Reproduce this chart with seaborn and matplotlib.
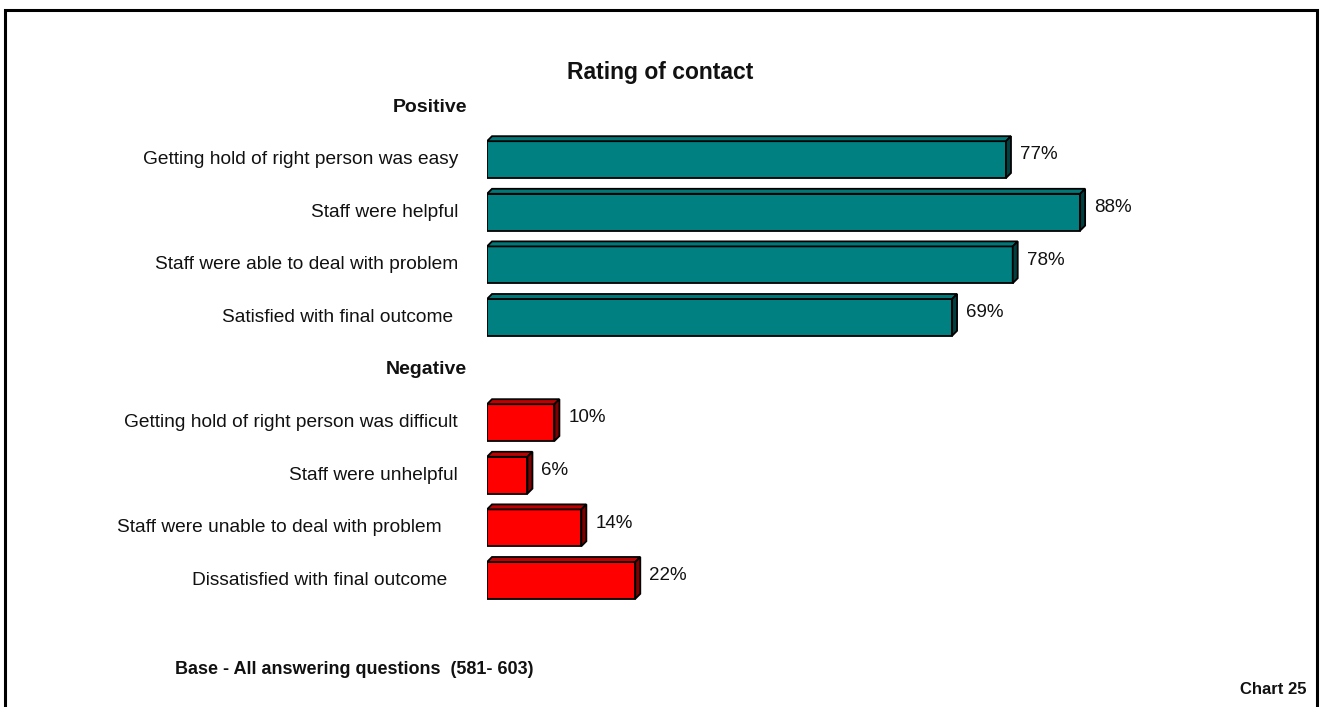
import matplotlib
matplotlib.use("Agg")
import matplotlib.pyplot as plt
import matplotlib.patches as mpatches
from matplotlib.transforms import offset_copy
import seaborn as sns
import pandas as pd

# Survey results (% of respondents)
positive_labels = [
    "Getting hold of right person was easy",
    "Staff were helpful",
    "Staff were able to deal with problem",
    "Satisfied with final outcome",
]
positive_values = [77, 88, 78, 69]

negative_labels = [
    "Getting hold of right person was difficult",
    "Staff were unhelpful",
    "Staff were unable to deal with problem",
    "Dissatisfied with final outcome",
]
negative_values = [10, 6, 14, 22]

group_headers = ["Positive", "Negative"]
title = "Rating of contact"
base_note = "Base - All answering questions  (581- 603)"
chart_id = "Chart 25"

# Small right-hand nudges (in spaces) so a few labels sit a little further left
label_nudge = {
    "Satisfied with final outcome": 1,
    "Staff were unable to deal with problem": 3,
    "Dissatisfied with final outcome": 2,
}

df = pd.DataFrame({
    "item": positive_labels + negative_labels,
    "pct": positive_values + negative_values,
    "group": ["Positive"] * len(positive_labels) + ["Negative"] * len(negative_labels),
})
row_order = [group_headers[0]] + positive_labels + [group_headers[1]] + negative_labels

sns.set_theme(style="white")
plt.rcParams["font.family"] = ["Liberation Sans", "DejaVu Sans"]

W, H = 1321, 707
fig = plt.figure(figsize=(W / 100, H / 100), dpi=100)

# axes placed in pixel terms: x=0 at 487px, 100% spans 674px; 10 rows of ~52.6px
ax_left, ax_w = 487, 674
row_h = 52.6
top_px = 107 - row_h / 2
ax_h = row_h * len(row_order)
ax = fig.add_axes([ax_left / W, 1 - (top_px + ax_h) / H, ax_w / W, ax_h / H])

front = {"Positive": "#008080", "Negative": "#FF0000"}
top_face = {"Positive": "#007878", "Negative": "#C00000"}
side_face = {"Positive": "#004040", "Negative": "#800000"}

sns.barplot(data=df, x="pct", y="item", hue="group", order=row_order,
            hue_order=group_headers, palette=front, saturation=1, dodge=False,
            width=0.7, edgecolor="black", linewidth=1.3, legend=False, ax=ax,
            orient="h")

ax.set_xlim(0, 100)
ax.set_ylim(len(row_order) - 0.5, -0.5)
ax.axis("off")

# 3-D faces: depth in pixels converted to data units
depth_px = 5
dx = depth_px / (ax_w / 100)
dy = depth_px / row_h
item_group = dict(zip(df["item"], df["group"]))
item_value = dict(zip(df["item"], df["pct"]))
for bar in list(ax.patches):
    if bar.get_width() <= 0:
        continue
    x0 = bar.get_x()
    x1 = x0 + bar.get_width()
    y_top = bar.get_y()
    y_bot = y_top + bar.get_height()
    yc = y_top + bar.get_height() / 2
    item = row_order[int(round(yc))]
    g = item_group[item]
    top = mpatches.Polygon([(x0, y_top), (x1, y_top), (x1 + dx, y_top - dy), (x0 + dx, y_top - dy)],
                           closed=True, facecolor=top_face[g], edgecolor="black", linewidth=1.3)
    side = mpatches.Polygon([(x1, y_top), (x1 + dx, y_top - dy), (x1 + dx, y_bot - dy), (x1, y_bot)],
                            closed=True, facecolor=side_face[g], edgecolor="black", linewidth=1.3)
    ax.add_patch(top)
    ax.add_patch(side)
    ax.text(x1 + dx + 9 / (ax_w / 100), yc - 0.09, f"{item_value[item]}%",
            ha="left", va="center", fontsize=13.5, color="#111111")

# Row labels and group headers
lab_tr = offset_copy(ax.get_yaxis_transform(), fig=fig, x=-29, y=0, units="dots")
head_tr = offset_copy(ax.get_yaxis_transform(), fig=fig, x=-20, y=0, units="dots")
for i, name in enumerate(row_order):
    if name in group_headers:
        ax.text(0, i, name, transform=head_tr, ha="right", va="center",
                fontsize=14, fontweight="bold", color="#111111")
    else:
        ax.text(0, i, name + " " * label_nudge.get(name, 0), transform=lab_tr,
                ha="right", va="center", fontsize=13.8, color="#111111")

fig.text(660 / W, 1 - 72 / H, title, ha="center", va="center",
         fontsize=16.5, fontweight="bold", color="#111111")
fig.text(175 / W, 1 - 669 / H, base_note, ha="left", va="center",
         fontsize=13, fontweight="bold", color="#111111")
fig.text(1306 / W, 1 - 689 / H, chart_id, ha="right", va="center",
         fontsize=12, fontweight="bold", color="#111111")

# Outer frame (open at the bottom edge of the page)
frame = mpatches.Rectangle((5 / W, -0.1), (1317 - 5) / W, 1.1 - 10 / H,
                           transform=fig.transFigure, fill=False,
                           edgecolor="black", linewidth=2.2, clip_on=False)
fig.add_artist(frame)

fig.savefig("out.png", dpi=100)
